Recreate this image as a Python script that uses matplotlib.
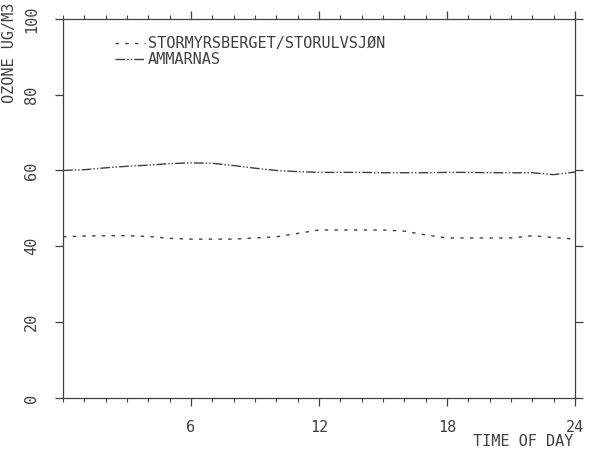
import numpy as np
import matplotlib
matplotlib.use("Agg")
import matplotlib.pyplot as plt
from matplotlib.ticker import MultipleLocator

hours = list(range(25))
stormyr = [42.5, 42.7, 42.8, 42.8, 42.6, 42.1, 41.9, 41.9, 41.9, 42.2, 42.5, 43.4, 44.3,
           44.3, 44.3, 44.3, 44.0, 43.0, 42.2, 42.2, 42.2, 42.2, 42.8, 42.3, 41.9]
ammarnas = [60.0, 60.2, 60.7, 61.1, 61.4, 61.8, 62.0, 61.9, 61.3, 60.6, 60.0, 59.7, 59.5,
            59.5, 59.5, 59.4, 59.4, 59.4, 59.5, 59.5, 59.4, 59.4, 59.4, 58.9, 59.6]
x_ticks = [6, 12, 18, 24]
y_ticks = [0, 20, 40, 60, 80, 100]

ink = "#404040"
plt.rcParams["font.family"] = "DejaVu Sans Mono"

fig = plt.figure(figsize=(5.94, 4.59), dpi=100)
ax = fig.add_axes([0.106, 0.133, 0.862, 0.826])

ax.plot(hours, stormyr, color=ink, lw=1.0, dashes=(2.5, 4.5),
        label="STORMYRSBERGET/STORULVSJØN")
ax.plot(hours, ammarnas, color=ink, lw=1.0, dashes=(7, 1.5, 1, 1.5, 1, 1.5),
        label="AMMARNAS")

ax.set_xlim(0, 24)
ax.set_ylim(0, 100)
ax.set_xticks(x_ticks)
ax.xaxis.set_minor_locator(MultipleLocator(1))
ax.set_yticks(y_ticks)

for s in ax.spines.values():
    s.set_color(ink)
    s.set_linewidth(0.9)

ax.tick_params(axis="both", which="major", direction="out", length=6, width=0.9,
               color=ink, labelcolor=ink, labelsize=11,
               top=True, right=True)
ax.tick_params(axis="x", which="minor", direction="out", length=3, width=0.8,
               color=ink, top=True)
ax.tick_params(axis="x", which="major", pad=10)
ax.tick_params(axis="y", which="major", pad=11)
for lab in ax.get_yticklabels():
    lab.set_rotation(90)
    lab.set_va("center")

fig.text(0.003, 0.995, "OZONE UG/M3", rotation=90, ha="left", va="top",
         fontsize=11, color=ink)
fig.text(0.966, 0.022, "TIME OF DAY", ha="right", va="bottom",
         fontsize=11, color=ink)

ax.legend(loc="upper left", bbox_to_anchor=(0.074, 0.99), frameon=False,
          handlelength=2.0, handletextpad=0.2, labelspacing=0.05,
          fontsize=11, labelcolor=ink)

fig.savefig("out.png", dpi=100, facecolor="white")
